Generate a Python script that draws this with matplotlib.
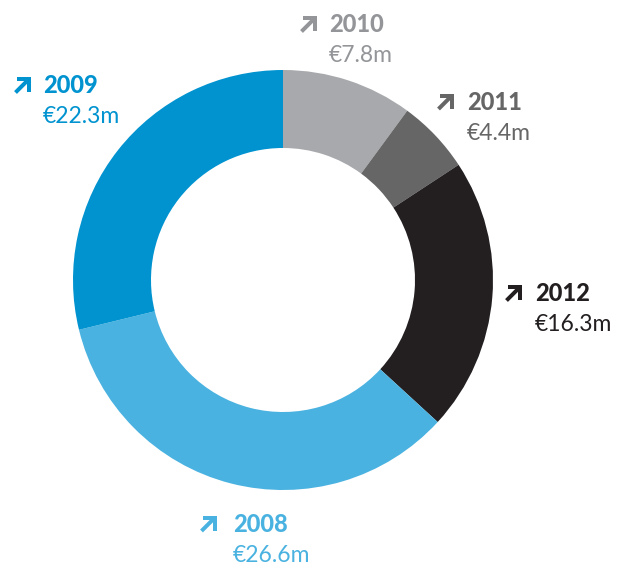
import matplotlib
matplotlib.use("Agg")
import matplotlib.pyplot as plt
from matplotlib.lines import Line2D

years = ["2010", "2011", "2012", "2008", "2009"]
values = [7.8, 4.4, 16.3, 26.6, 22.3]
value_labels = ["€7.8m", "€4.4m", "€16.3m", "€26.6m", "€22.3m"]
colors = ["#a7a9ac", "#666666", "#231f20", "#4ab2e0", "#0093d0"]
text_colors = ["#939598", "#666666", "#231f20", "#4ab2e0", "#0093d0"]
# text left x and year-line centre y, in pixels from top-left
label_pos = [(329, 24.5), (467, 102), (535, 293.5), (233, 524), (43, 85.5)]
arrow_x = [300, 437, 505, 200, 14]

W, H = 630, 570
fig = plt.figure(figsize=(W / 100, H / 100), dpi=100)
ax = fig.add_axes([0, 0, 1, 1])

ax.pie(values, colors=colors, startangle=90, counterclock=False,
       center=(283, H - 280), radius=210,
       wedgeprops=dict(width=78, edgecolor="none", linewidth=0))
ax.set_xlim(0, W)
ax.set_ylim(0, H)
ax.set_aspect("equal")
ax.axis("off")

lw = 4 * 72 / 100  # 4 px
for yr, vl, tc, (x, y), axx in zip(years, value_labels, text_colors, label_pos, arrow_x):
    s = 17
    top = y - s / 2 + 2
    right = axx + s - 2
    bot = y + s / 2
    # head
    ax.add_line(Line2D([axx + 3, right, right], [H - top, H - top, H - (top + 13)],
                       color=tc, lw=lw, solid_joinstyle="miter", solid_capstyle="butt"))
    # shaft
    ax.add_line(Line2D([axx + 1.5, right - 1], [H - (bot - 1.5), H - (top + 1)],
                       color=tc, lw=lw, solid_capstyle="butt"))
    ax.text(x, H - y, yr, color=tc, fontsize=17, fontweight="black",
            family=["Lato", "DejaVu Sans"], ha="left", va="center")
    ax.text(x, H - y - 31, vl, color=tc, fontsize=16.5,
            family=["Lato", "DejaVu Sans"], ha="left", va="center")

fig.savefig("out.png", dpi=100)
